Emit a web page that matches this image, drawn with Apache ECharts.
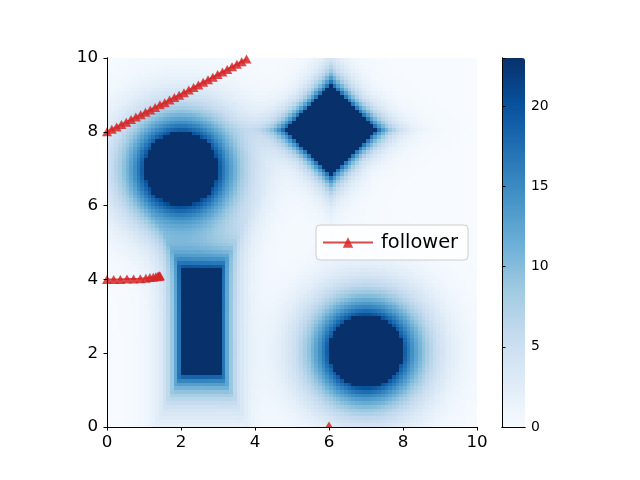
<!DOCTYPE html>
<html><head><meta charset="utf-8">
<script src="https://cdn.jsdelivr.net/npm/echarts@6/dist/echarts.min.js"></script>
<style>html,body{margin:0;padding:0;background:#fff}#c{width:640px;height:480px}</style>
</head><body><div id="c"></div>
<script>
// ---- data ----
const axisTicks = [0, 2, 4, 6, 8, 10];
const colorbarTicks = [0, 5, 10, 15, 20];
const colorMax = 23.0;
const bluesColors = ['#f7fbff','#deebf7','#c6dbef','#9ecae1','#6baed6','#4292c6','#2171b5','#08519c','#08306b'];
// obstacles: circles [cx, cy, r]
const circles = [[2.0, 7.0, 1.0], [7.0, 2.05, 1.0]];
// diamonds [cx, cy, halfDiagonal]
const diamonds = [[6.05, 8.05, 1.22]];
// rectangles [x0, x1, y0, y1]
const rects = [[2.0, 3.1, 1.4, 4.3]];
// falloff readings (edge value and decay rates)
const edgeValue = 20;
const circleDecay = [1.2, 0.3];
const rectDecay = [3.3, 1.7];
const diamondDecay = [2.2, 0.2];
const cellSize = 0.1;
const gridCount = 100;
// follower trajectory, segments
const followerA = [[0.00,8.00],[0.13,8.07],[0.26,8.13],[0.39,8.20],[0.52,8.26],[0.65,8.33],[0.78,8.40],[0.91,8.46],[1.04,8.53],[1.17,8.59],[1.30,8.66],[1.43,8.73],[1.56,8.79],[1.69,8.86],[1.82,8.93],[1.95,8.99],[2.08,9.06],[2.21,9.13],[2.34,9.20],[2.47,9.27],[2.60,9.34],[2.73,9.41],[2.86,9.48],[2.99,9.55],[3.12,9.62],[3.25,9.69],[3.38,9.76],[3.51,9.83],[3.64,9.90],[3.77,9.97]];
const followerB = [[0.00,4.00],[0.18,4.00],[0.36,4.00],[0.54,4.01],[0.72,4.01],[0.90,4.02],[1.05,4.03],[1.16,4.05],[1.25,4.06],[1.32,4.07],[1.37,4.08],[1.40,4.09],[1.42,4.09],[1.43,4.10]];
const followerC = [[6.00,0.00]];

// ---- build the cost field from the obstacles ----
function cost(x, y) {
  let v = 0;
  for (const [cx, cy, r] of circles) {
    const d = Math.hypot(x - cx, y - cy) - r;
    if (d <= 0) return colorMax;
    v += edgeValue * Math.exp(-circleDecay[0] * d - circleDecay[1] * d * d);
  }
  for (const [x0, x1, y0, y1] of rects) {
    const dx = Math.max(x0 - x, 0, x - x1), dy = Math.max(y0 - y, 0, y - y1);
    if (dx === 0 && dy === 0) return colorMax;
    v += edgeValue * Math.exp(-Math.max(rectDecay[0] * dx, rectDecay[1] * dy));
  }
  for (const [cx, cy, R] of diamonds) {
    const u = Math.abs(x - cx), w = Math.abs(y - cy);
    const e = u + w - R;
    if (e <= 0) return colorMax;
    const ratio = Math.min(u, w) / Math.max(u, w);
    v += edgeValue * Math.exp(-diamondDecay[0] * e * (1 + diamondDecay[1] * ratio));
  }
  return Math.min(v, colorMax);
}
const field = [];
for (let i = 0; i < gridCount; i++) {
  for (let j = 0; j < gridCount; j++) {
    const x0 = i * cellSize, y0 = j * cellSize;
    field.push([x0, y0, cost(x0 + cellSize / 2, y0 + cellSize / 2)]);
  }
}

const FONT = 'DejaVu Sans';
const red = 'rgba(214,39,40,0.85)';
const chart = echarts.init(document.getElementById('c'), null, {renderer: 'canvas'});
const lineAxis = {show: true, lineStyle: {color: '#000', width: 1}};
const followerSeries = (d) => ({
  type: 'line', name: 'follower', data: d, xAxisIndex: 0, yAxisIndex: 0,
  symbol: 'triangle', symbolSize: [10, 9], showSymbol: true, z: 5, clip: true,
  lineStyle: {color: red, width: 2}, itemStyle: {color: red, borderWidth: 0},
  animation: false, silent: true
});
chart.setOption({
  animation: false,
  grid: [
    {left: 107, top: 58, width: 370, height: 369},
    {left: 502, top: 58, width: 23, height: 369}
  ],
  xAxis: [
    {type: 'value', gridIndex: 0, min: 0, max: 10, interval: 2, position: 'bottom', z: 10,
     axisLine: lineAxis, axisTick: {show: true, length: 3.5, lineStyle: {color: '#000'}},
     axisLabel: {fontFamily: FONT, fontSize: 16.7, color: '#000', margin: 7,
       formatter: v => axisTicks.includes(v) ? String(v) : ''}, splitLine: {show: false}},
    {type: 'value', gridIndex: 0, min: 0, max: 10, position: 'top', z: 10,
     axisLine: lineAxis, axisTick: {show: false}, axisLabel: {show: false}, splitLine: {show: false}},
    {type: 'value', gridIndex: 1, min: 0, max: 1, position: 'bottom', z: 10,
     axisLine: lineAxis, axisTick: {show: false}, axisLabel: {show: false}, splitLine: {show: false}},
    {type: 'value', gridIndex: 1, min: 0, max: 1, position: 'top', z: 10,
     axisLine: lineAxis, axisTick: {show: false}, axisLabel: {show: false}, splitLine: {show: false}}
  ],
  yAxis: [
    {type: 'value', gridIndex: 0, min: 0, max: 10, interval: 2, position: 'left', z: 10,
     axisLine: lineAxis, axisTick: {show: true, length: 3.5, lineStyle: {color: '#000'}},
     axisLabel: {fontFamily: FONT, fontSize: 16.7, color: '#000', margin: 9,
       formatter: v => axisTicks.includes(v) ? String(v) : ''}, splitLine: {show: false}},
    {type: 'value', gridIndex: 0, min: 0, max: 10, position: 'right', z: 10,
     axisLine: lineAxis, axisTick: {show: false}, axisLabel: {show: false}, splitLine: {show: false}},
    {type: 'value', gridIndex: 1, min: 0, max: colorMax, interval: 5, position: 'right', z: 10,
     axisLine: lineAxis, axisTick: {show: true, length: 3.5, lineStyle: {color: '#000'}},
     axisLabel: {fontFamily: FONT, fontSize: 13.9, color: '#000', margin: 6,
       formatter: v => colorbarTicks.includes(v) ? String(v) : ''}, splitLine: {show: false}},
    {type: 'value', gridIndex: 1, min: 0, max: colorMax, position: 'left', z: 10,
     axisLine: lineAxis, axisTick: {show: false}, axisLabel: {show: false}, splitLine: {show: false}}
  ],
  visualMap: {
    type: 'continuous', min: 0, max: colorMax, dimension: 2, seriesIndex: 0,
    orient: 'vertical', left: 502, top: 58, itemWidth: 23, itemHeight: 369,
    padding: 0, calculable: false, realtime: false, hoverLink: false,
    inRange: {color: bluesColors}
  },
  legend: {
    data: ['follower'], left: 316, top: 225, orient: 'vertical',
    itemWidth: 50, itemHeight: 13, padding: [8, 10, 8, 6],
    backgroundColor: 'rgba(255,255,255,0.8)', borderColor: '#cccccc', borderWidth: 1, borderRadius: 4,
    textStyle: {fontFamily: FONT, fontSize: 19.4, color: '#000', padding: [0, 0, 0, 3]},
    selectedMode: false
  },
  series: [
    {
      type: 'custom', xAxisIndex: 0, yAxisIndex: 0, data: field, clip: true, silent: true, z: 1,
      encode: {x: 0, y: 1},
      renderItem: function (params, api) {
        const x0 = api.value(0), y0 = api.value(1);
        const p1 = api.coord([x0, y0 + cellSize]);
        const p2 = api.coord([x0 + cellSize, y0]);
        const l = Math.round(p1[0]), t = Math.round(p1[1]);
        const r = Math.round(p2[0]), b = Math.round(p2[1]);
        return {type: 'rect', shape: {x: l, y: t, width: r - l, height: b - t},
          style: {fill: api.visual('color')}};
      }
    },
    followerSeries(followerA),
    followerSeries(followerB),
    {
      type: 'custom', name: 'follower', xAxisIndex: 0, yAxisIndex: 0, data: followerC, clip: true,
      silent: true, z: 5, encode: {x: 0, y: 1},
      renderItem: function (params, api) {
        const p = api.coord([api.value(0), api.value(1)]);
        return {type: 'polygon', shape: {points: [[p[0], p[1] - 5.5], [p[0] - 6.5, p[1] + 5.5], [p[0] + 6.5, p[1] + 5.5]]},
          style: {fill: red}};
      }
    }
  ]
});
</script></body></html>
